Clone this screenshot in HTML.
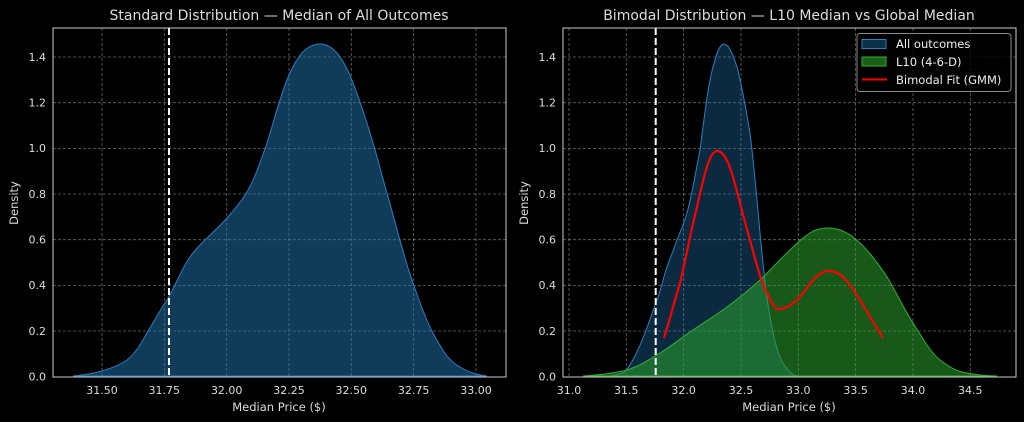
<!DOCTYPE html>
<html><head><style>
html,body{margin:0;padding:0;background:#000;}
svg{display:block;font-family:"DejaVu Sans","Liberation Sans",sans-serif;}
</style></head><body>
<svg width="1024" height="422" viewBox="0 0 1024 422" xmlns="http://www.w3.org/2000/svg">
<rect width="1024" height="422" fill="#000"/>
<!-- LEFT -->
<g stroke="#bbb" stroke-opacity="0.55" stroke-width="0.8" stroke-dasharray="3,2">
<line x1="102" y1="28" x2="102" y2="377"/><line x1="164.3" y1="28" x2="164.3" y2="377"/><line x1="226.7" y1="28" x2="226.7" y2="377"/><line x1="289" y1="28" x2="289" y2="377"/><line x1="351.3" y1="28" x2="351.3" y2="377"/><line x1="413.6" y1="28" x2="413.6" y2="377"/><line x1="476" y1="28" x2="476" y2="377"/>
<line x1="53" y1="331" x2="506" y2="331"/><line x1="53" y1="285.4" x2="506" y2="285.4"/><line x1="53" y1="239.7" x2="506" y2="239.7"/><line x1="53" y1="194" x2="506" y2="194"/><line x1="53" y1="148.4" x2="506" y2="148.4"/><line x1="53" y1="102.7" x2="506" y2="102.7"/><line x1="53" y1="57" x2="506" y2="57"/>
</g>
<path d="M73,376 C85,375 95,373 102,371 C112,368 120,365 127,360 C137,352 142,342 148,331 C155,320 160,310 167,300 C176,285 183,265 193,253 C205,238 215,232 227,218 C235,209 241,202 247,192 C256,176 261,160 267,143 C274,121 280,97 287,80 C297,55 307,44 320,44 C334,44 343,60 350,75 C358,95 364,113 370,133 C377,155 381,173 387,193 C396,225 404,258 413,283 C420,303 426,320 433,333 C443,352 450,362 460,367 C470,373 478,375 487,376 Z" fill="#1f77b4" fill-opacity="0.5" stroke="#2a7fc0" stroke-width="1"/>
<line x1="169" y1="28" x2="169" y2="377" stroke="#fff" stroke-width="2" stroke-dasharray="7,3"/>
<rect x="53" y="28" width="453" height="349" fill="none" stroke="#ccc" stroke-width="1"/>
<g fill="#ddd" font-size="11" text-anchor="middle">
<text x="102" y="394">31.50</text><text x="164.3" y="394">31.75</text><text x="226.7" y="394">32.00</text><text x="289" y="394">32.25</text><text x="351.3" y="394">32.50</text><text x="413.6" y="394">32.75</text><text x="476" y="394">33.00</text>
</g>
<g fill="#ddd" font-size="11" text-anchor="end">
<text x="46" y="380.5">0.0</text><text x="46" y="335">0.2</text><text x="46" y="289">0.4</text><text x="46" y="243.5">0.6</text><text x="46" y="198">0.8</text><text x="46" y="152">1.0</text><text x="46" y="106.5">1.2</text><text x="46" y="61">1.4</text>
</g>
<text x="279" y="411" fill="#ddd" font-size="11.5" text-anchor="middle">Median Price ($)</text>
<text transform="translate(18,203) rotate(-90)" fill="#ddd" font-size="11.5" text-anchor="middle">Density</text>
<text x="279" y="20" fill="#ddd" font-size="14" text-anchor="middle">Standard Distribution — Median of All Outcomes</text>

<!-- RIGHT -->
<g stroke="#bbb" stroke-opacity="0.55" stroke-width="0.8" stroke-dasharray="3,2">
<line x1="569" y1="28" x2="569" y2="377"/><line x1="626.3" y1="28" x2="626.3" y2="377"/><line x1="683.6" y1="28" x2="683.6" y2="377"/><line x1="741" y1="28" x2="741" y2="377"/><line x1="798.3" y1="28" x2="798.3" y2="377"/><line x1="855.6" y1="28" x2="855.6" y2="377"/><line x1="913" y1="28" x2="913" y2="377"/><line x1="970.3" y1="28" x2="970.3" y2="377"/>
<line x1="563" y1="331" x2="1016" y2="331"/><line x1="563" y1="285.4" x2="1016" y2="285.4"/><line x1="563" y1="239.7" x2="1016" y2="239.7"/><line x1="563" y1="194" x2="1016" y2="194"/><line x1="563" y1="148.4" x2="1016" y2="148.4"/><line x1="563" y1="102.7" x2="1016" y2="102.7"/><line x1="563" y1="57" x2="1016" y2="57"/>
</g>
<path d="M610,376 C616,375 620,374 625,372 C633,362 640,346 645,333 C650,320 653,310 657,300 C661,290 663,278 667,267 C671,256 674,249 677,240 C681,230 684,223 687,213 C692,195 696,170 700,150 C704,120 708,85 713,67 C717,52 720,44 724,44 C729,44 733,55 737,67 C742,85 746,110 750,133 C754,165 757,200 760,233 C763,265 766,295 770,317 C774,340 778,355 783,363 C788,371 792,375 797,376 Z" fill="#1f77b4" fill-opacity="0.35" stroke="#2a7fc0" stroke-width="1"/>
<path d="M583,376 C600,375 615,373 627,370 C640,366 650,359 660,353 C672,346 682,337 693,330 C705,322 716,315 727,307 C738,299 750,289 760,280 C770,271 778,261 787,253 C795,245 802,238 810,233 C816,229 822,228 828,228 C837,228 845,231 853,237 C866,247 877,262 887,277 C896,292 904,309 913,323 C922,337 930,352 940,360 C950,368 958,372 967,373 C978,375 988,376 997,376 Z" fill="#2ca02c" fill-opacity="0.55" stroke="#33b033" stroke-width="1"/>
<line x1="655.7" y1="28" x2="655.7" y2="377" stroke="#fff" stroke-width="2" stroke-dasharray="7,3"/>
<path d="M664,338 C669,322 674,303 680,283 C686,258 691,230 697,207 C703,180 709,151 717,151 C724,151 729,163 733,177 C739,198 744,220 750,240 C756,262 761,282 767,293 C771,302 774,309 778,309 C786,309 791,305 797,300 C803,294 808,286 813,280 C818,275 823,271 828,271 C834,271 839,273 843,277 C850,284 855,292 860,300 C867,312 875,325 883,338" fill="none" stroke="#f00" stroke-width="2.2"/>
<rect x="563" y="28" width="453" height="349" fill="none" stroke="#ccc" stroke-width="1"/>
<rect x="857" y="33.5" width="154" height="58" rx="3" fill="#000" fill-opacity="0.8" stroke="#888" stroke-width="1"/>
<rect x="862" y="39.5" width="24" height="9" fill="#1f77b4" fill-opacity="0.4" stroke="#2a7fc0" stroke-width="1"/>
<rect x="862" y="57" width="24" height="9" fill="#2ca02c" fill-opacity="0.6" stroke="#33b033" stroke-width="1"/>
<line x1="862" y1="79.5" x2="887" y2="79.5" stroke="#f00" stroke-width="2"/>
<g fill="#eee" font-size="11.5">
<text x="896" y="48">All outcomes</text><text x="896" y="66">L10 (4-6-D)</text><text x="896" y="84">Bimodal Fit (GMM)</text>
</g>
<g fill="#ddd" font-size="11" text-anchor="middle">
<text x="569" y="394">31.0</text><text x="626.3" y="394">31.5</text><text x="683.6" y="394">32.0</text><text x="741" y="394">32.5</text><text x="798.3" y="394">33.0</text><text x="855.6" y="394">33.5</text><text x="913" y="394">34.0</text><text x="970.3" y="394">34.5</text>
</g>
<g fill="#ddd" font-size="11" text-anchor="end">
<text x="556" y="380.5">0.0</text><text x="556" y="335">0.2</text><text x="556" y="289">0.4</text><text x="556" y="243.5">0.6</text><text x="556" y="198">0.8</text><text x="556" y="152">1.0</text><text x="556" y="106.5">1.2</text><text x="556" y="61">1.4</text>
</g>
<text x="789" y="411" fill="#ddd" font-size="11.5" text-anchor="middle">Median Price ($)</text>
<text transform="translate(528,203) rotate(-90)" fill="#ddd" font-size="11.5" text-anchor="middle">Density</text>
<text x="789" y="20" fill="#ddd" font-size="14" text-anchor="middle">Bimodal Distribution — L10 Median vs Global Median</text>
</svg>
</body></html>
